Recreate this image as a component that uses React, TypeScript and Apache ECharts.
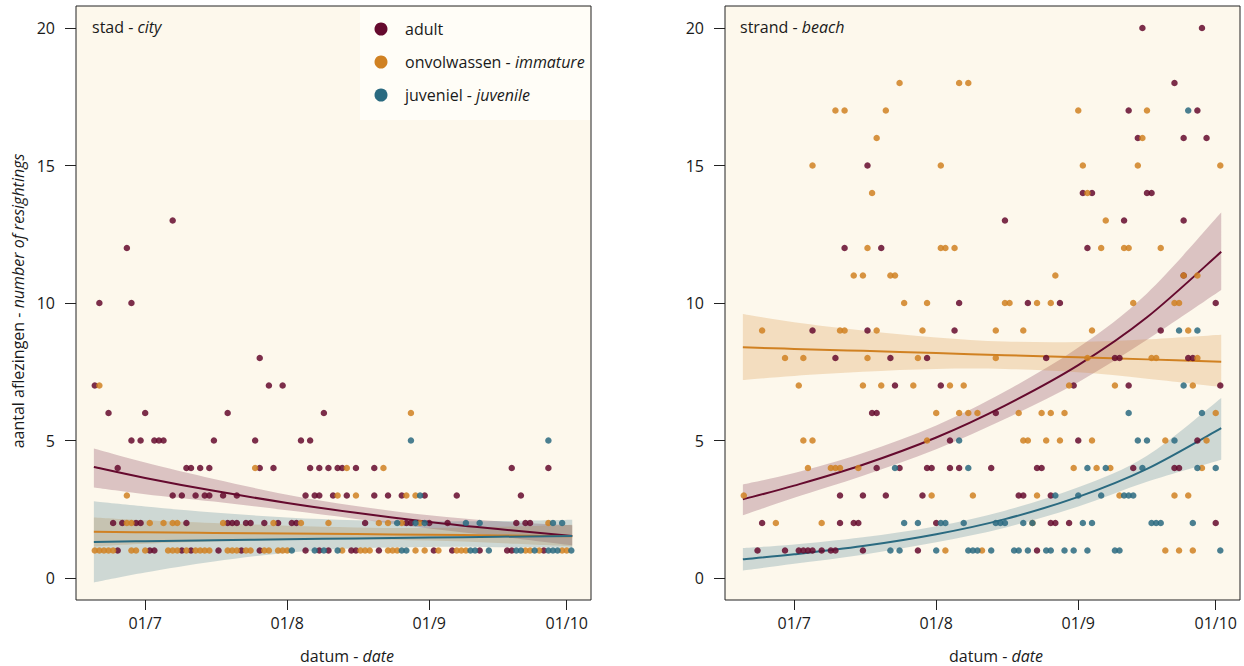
import React, { useEffect, useRef } from "react";
import * as echarts from "echarts";

// x values are days counted from 1 July (0 = 01/7)
const tickDays = [0, 31, 62, 92];
const tickLabels = ["01/7", "01/8", "01/9", "01/10"];
const yTicks = [0, 5, 10, 15, 20];

const classNames = ["adult", "onvolwassen - immature", "juveniel - juvenile"];
const classColors = ["#650a2e", "#d08122", "#2a6a80"];

// rows: [count, days[]]
const cityAdultRows: [number, number[]][] = [
  [13, [6]],
  [12, [-4]],
  [10, [-10, -3]],
  [8, [25]],
  [7, [-11, 27, 30]],
  [6, [-8, 0, 18, 39]],
  [5, [-3, -1, 2, 3, 4, 15, 24, 34, 36]],
  [4, [-6, 9, 10, 12, 14, 25, 28, 36, 38, 40, 42, 43, 46, 50, 80, 88]],
  [3, [6, 8, 11, 13, 14, 17, 20, 35, 37, 38, 41, 44, 50, 53, 56, 61, 68, 82]],
  [2, [-7, -5, -2, -1, 9, 18, 19, 20, 22, 23, 26, 29, 32, 33, 48, 57, 58, 62, 66, 81, 83, 84]],
  [1, [-6, 1, 2, 8, 10, 16, 21, 25, 35, 38, 40, 45, 46, 51, 63, 67, 73, 79, 80, 87]],
];
const cityImmatureRows: [number, number[]][] = [
  [7, [-10]],
  [6, [58]],
  [4, [24, 44, 52]],
  [3, [-4, 42, 46, 57, 59]],
  [2, [-4, -3, 1, 4, 6, 7, 17, 28, 34, 40, 51, 53, 56, 60, 88]],
  [1, [-11, -10, -9, -8, -7, -3, -2, 0, 5, 6, 7, 9, 11, 12, 13, 14, 18, 19, 20, 22, 23, 26, 27, 29, 30, 31, 43, 47, 48, 49, 53, 54, 55, 59, 61, 64, 68, 69, 70, 83, 84, 86, 91, 92]],
];
const cityJuvenileRows: [number, number[]][] = [
  [5, [58, 88]],
  [3, [60]],
  [2, [55, 59, 61, 70, 73, 89, 91]],
  [1, [32, 37, 39, 42, 56, 57, 71, 72, 75, 81, 82, 85, 88, 89, 90, 93]],
];
const beachAdultRows: [number, number[]][] = [
  [20, [76, 89]],
  [18, [83]],
  [17, [73, 88]],
  [16, [75, 85, 90]],
  [15, [16]],
  [14, [63, 65, 77, 78]],
  [13, [46, 72, 85]],
  [12, [11, 19, 64]],
  [11, [85]],
  [10, [36, 51, 58, 92]],
  [9, [4, 16, 35, 80]],
  [8, [9, 21, 29, 55, 70, 71, 86, 87]],
  [7, [22, 32, 61, 73, 93]],
  [6, [17, 18, 44]],
  [5, [34, 62, 88]],
  [4, [18, 23, 29, 30, 34, 36, 43, 53, 54, 74, 83, 84]],
  [3, [10, 15, 20, 28, 49, 50, 56]],
  [2, [-7, 10, 13, 14, 31, 56, 57, 60, 92]],
  [1, [-8, -2, 1, 2, 3, 4, 6, 8, 9, 15, 27, 53]],
];
const beachImmatureRows: [number, number[]][] = [
  [18, [23, 36, 38]],
  [17, [9, 11, 20, 62, 77]],
  [16, [18, 76]],
  [15, [4, 32, 63, 75, 93]],
  [14, [17, 64]],
  [13, [68]],
  [12, [16, 32, 33, 35, 67, 72, 73, 80]],
  [11, [13, 15, 21, 22, 57, 85, 88]],
  [10, [24, 29, 46, 47, 53, 56, 74, 83, 84]],
  [9, [-7, 10, 11, 18, 28, 44, 50, 65, 86]],
  [8, [-2, 2, 16, 27, 44, 64, 78, 79, 88]],
  [7, [1, 15, 19, 26, 34, 37, 60, 70, 87]],
  [6, [31, 36, 38, 40, 49, 54, 56, 59, 92]],
  [5, [2, 4, 29, 50, 51, 55, 58, 65, 81, 90]],
  [4, [3, 8, 9, 10, 14, 61, 66, 69, 89]],
  [3, [-11, 30, 39, 53, 71, 83, 86]],
  [2, [-4, 6, 52]],
  [1, [33, 41, 81, 84, 87]],
];
const beachJuvenileRows: [number, number[]][] = [
  [17, [86]],
  [9, [84, 88]],
  [7, [85]],
  [6, [73, 89]],
  [5, [36, 75, 77, 83]],
  [4, [22, 38, 64, 68, 76, 88, 92]],
  [3, [57, 62, 67, 72, 73, 74]],
  [2, [24, 27, 32, 33, 37, 44, 45, 46, 50, 52, 63, 65, 78, 79, 80, 87]],
  [1, [21, 23, 31, 38, 39, 40, 43, 48, 49, 51, 55, 56, 59, 61, 64, 70, 71, 93]],
];

// fitted curves and confidence bands, read at these days
const fitDays = [-11.2, 0, 15, 31, 46, 62, 77, 93.2];

const cityAdultFit = [4.04, 3.64, 3.17, 2.73, 2.37, 2.04, 1.78, 1.53];
const cityAdultLo = [3.29, 3.05, 2.78, 2.46, 2.15, 1.8, 1.52, 1.19];
const cityAdultHi = [4.71, 4.2, 3.6, 3.03, 2.62, 2.28, 2.06, 1.92];
const cityImmFit = [1.68, 1.66, 1.64, 1.62, 1.6, 1.57, 1.55, 1.52];
const cityImmLo = [1.15, 1.25, 1.33, 1.38, 1.4, 1.36, 1.27, 1.15];
const cityImmHi = [2.2, 2.1, 2.0, 1.9, 1.84, 1.82, 1.86, 1.94];
const cityJuvFit = [1.31, 1.34, 1.37, 1.41, 1.44, 1.47, 1.5, 1.53];
const cityJuvLo = [-0.16, 0.2, 0.6, 0.92, 1.08, 1.13, 1.12, 1.1];
const cityJuvHi = [2.79, 2.6, 2.38, 2.2, 2.1, 2.06, 2.07, 2.12];

const beachAdultFit = [2.86, 3.36, 4.12, 5.11, 6.27, 7.74, 9.48, 11.86];
const beachAdultLo = [2.28, 2.92, 3.72, 4.68, 5.78, 7.12, 8.66, 10.47];
const beachAdultHi = [3.4, 3.82, 4.55, 5.55, 6.78, 8.38, 10.35, 13.29];
const beachImmFit = [8.39, 8.33, 8.26, 8.18, 8.1, 8.03, 7.95, 7.86];
const beachImmLo = [7.2, 7.35, 7.5, 7.6, 7.6, 7.48, 7.25, 6.95];
const beachImmHi = [9.6, 9.3, 9.0, 8.75, 8.6, 8.58, 8.68, 8.85];
const beachJuvFit = [0.68, 0.86, 1.16, 1.59, 2.14, 2.95, 3.97, 5.45];
const beachJuvLo = [0.27, 0.52, 0.85, 1.3, 1.83, 2.6, 3.5, 4.3];
const beachJuvHi = [1.09, 1.22, 1.48, 1.88, 2.45, 3.3, 4.45, 6.55];

const FONT = "Open Sans";
const TXT = "#1a1a1a";

function rowsToPoints(rows: [number, number[]][]) {
  const out: number[][] = [];
  rows.forEach(([c, days]) => days.forEach((d) => out.push([d, c])));
  return out;
}

function hexA(hex: string, a: number) {
  const n = parseInt(hex.slice(1), 16);
  return `rgba(${(n >> 16) & 255},${(n >> 8) & 255},${n & 255},${a})`;
}

// Catmull-Rom spline through pixel points -> cubic bezier path segments (no leading M)
function splineSegs(p: number[][]) {
  let s = "";
  for (let i = 0; i < p.length - 1; i++) {
    const p0 = p[Math.max(0, i - 1)];
    const p1 = p[i];
    const p2 = p[i + 1];
    const p3 = p[Math.min(p.length - 1, i + 2)];
    const c1x = p1[0] + (p2[0] - p0[0]) / 6;
    const c1y = p1[1] + (p2[1] - p0[1]) / 6;
    const c2x = p2[0] - (p3[0] - p1[0]) / 6;
    const c2y = p2[1] - (p3[1] - p1[1]) / 6;
    s += ` C ${c1x} ${c1y} ${c2x} ${c2y} ${p2[0]} ${p2[1]}`;
  }
  return s;
}

export default function App() {
  const ref = useRef<HTMLDivElement>(null);
  useEffect(() => {
    if (!ref.current) return;
    const chart = echarts.init(ref.current, undefined, { renderer: "svg" });

    const panels = [
      {
        rows: [cityAdultRows, cityImmatureRows, cityJuvenileRows],
        fits: [cityAdultFit, cityImmFit, cityJuvFit],
        los: [cityAdultLo, cityImmLo, cityJuvLo],
        his: [cityAdultHi, cityImmHi, cityJuvHi],
      },
      {
        rows: [beachAdultRows, beachImmatureRows, beachJuvenileRows],
        fits: [beachAdultFit, beachImmFit, beachJuvFit],
        los: [beachAdultLo, beachImmLo, beachJuvLo],
        his: [beachAdultHi, beachImmHi, beachJuvHi],
      },
    ];

    const scatter: any[] = [];
    const bands: any[] = [];
    const lines: any[] = [];
    panels.forEach((p, pi) => {
      [0, 1, 2].forEach((k) => {
        scatter.push({
          type: "scatter",
          name: classNames[k],
          xAxisIndex: pi,
          yAxisIndex: pi,
          data: rowsToPoints(p.rows[k]),
          symbolSize: 6.5,
          itemStyle: { color: classColors[k], opacity: 0.85 },
          silent: true,
        });
        const lo = p.los[k];
        const hi = p.his[k];
        const fit = p.fits[k];
        bands.push({
          type: "custom",
          xAxisIndex: pi,
          yAxisIndex: pi,
          silent: true,
          data: fitDays.map((d, i) => [d, lo[i], hi[i]]),
          encode: { x: 0, y: [1, 2] },
          renderItem: (params: any, api: any) => {
            if (params.dataIndex !== 0) return null;
            const up = fitDays.map((d, i) => api.coord([d, hi[i]]));
            const dn = fitDays.map((d, i) => api.coord([d, lo[i]])).reverse();
            const path =
              `M ${up[0][0]} ${up[0][1]}` +
              splineSegs(up) +
              ` L ${dn[0][0]} ${dn[0][1]}` +
              splineSegs(dn) +
              " Z";
            return {
              type: "path",
              shape: { pathData: path },
              style: { fill: hexA(classColors[k], 0.22), stroke: "none" },
            };
          },
        });
        lines.push({
          type: "custom",
          xAxisIndex: pi,
          yAxisIndex: pi,
          silent: true,
          data: fitDays.map((d, i) => [d, fit[i]]),
          encode: { x: 0, y: 1 },
          renderItem: (params: any, api: any) => {
            if (params.dataIndex !== 0) return null;
            const pts = fitDays.map((d, i) => api.coord([d, fit[i]]));
            const path = `M ${pts[0][0]} ${pts[0][1]}` + splineSegs(pts);
            return {
              type: "path",
              shape: { pathData: path },
              style: { fill: "none", stroke: classColors[k], lineWidth: 2 },
            };
          },
        });
      });
    });

    const gridBase = {
      top: 6,
      width: 515,
      height: 594,
      show: true,
      backgroundColor: "#fdf8ec",
      borderColor: "#222",
      borderWidth: 1,
    };

    const mkX = (gi: number) => ({
      type: "value",
      gridIndex: gi,
      min: -15.1,
      max: 97.3,
      splitLine: { show: false },
      axisLine: { show: false, onZero: false },
      axisTick: {
        show: true,
        customValues: tickDays,
        length: 10,
        lineStyle: { color: "#222", width: 1 },
      },
      axisLabel: {
        customValues: tickDays,
        formatter: (v: number) => tickLabels[tickDays.indexOf(v)] ?? "",
        margin: 15,
        fontFamily: FONT,
        fontSize: 16,
        color: TXT,
      },
    });
    const mkY = (gi: number) => ({
      type: "value",
      gridIndex: gi,
      min: -0.8,
      max: 20.8,
      splitLine: { show: false },
      axisLine: { show: false, onZero: false },
      axisTick: {
        show: true,
        customValues: yTicks,
        length: 11,
        lineStyle: { color: "#222", width: 1 },
      },
      axisLabel: {
        customValues: yTicks,
        margin: 21,
        fontFamily: FONT,
        fontSize: 16,
        color: TXT,
      },
    });

    const rich = {
      n: { fontFamily: FONT, fontSize: 16, fill: TXT, color: TXT },
      i: { fontFamily: FONT, fontSize: 16, fontStyle: "italic", fill: TXT, color: TXT },
    };
    const txt = (x: number, y: number, text: string, extra: any = {}) => ({
      type: "text",
      x,
      y,
      z: 10,
      ...extra,
      style: {
        text,
        rich,
        fontFamily: FONT,
        fontSize: 16,
        fill: TXT,
        verticalAlign: "middle",
        align: "left",
        ...(extra.style || {}),
      },
    });

    const legendRows = [29, 62, 95];
    const legendTexts = ["{n|adult}", "{n|onvolwassen - }{i|immature}", "{n|juveniel - }{i|juvenile}"];

    const graphic: any[] = [
      { type: "rect", shape: { x: 360, y: 7, width: 230, height: 113 }, style: { fill: "#fffdf7" }, z: 5 },
      ...legendRows.map((y, k) => ({
        type: "circle",
        shape: { cx: 381, cy: y, r: 6.5 },
        style: { fill: classColors[k] },
        z: 10,
      })),
      ...legendRows.map((y, k) => txt(405, y, legendTexts[k])),
      txt(92, 27, "{n|stad - }{i|city}"),
      txt(740, 27, "{n|strand - }{i|beach}"),
      txt(300, 656, "{n|datum - }{i|date}"),
      txt(949, 656, "{n|datum - }{i|date}"),
      txt(18, 301, "{n|aantal aflezingen - }{i|number of resightings}", {
        rotation: Math.PI / 2,
        style: { align: "center" },
      }),
    ];

    chart.setOption({
      animation: false,
      grid: [
        { ...gridBase, left: 76 },
        { ...gridBase, left: 725 },
      ],
      xAxis: [mkX(0), mkX(1)],
      yAxis: [mkY(0), mkY(1)],
      series: [...scatter, ...bands, ...lines],
      graphic,
    });
    return () => chart.dispose();
  }, []);

  return (
    <div
      ref={ref}
      style={{ position: "absolute", left: 0, top: 0, width: 1244, height: 666, background: "#fff" }}
    />
  );
}
